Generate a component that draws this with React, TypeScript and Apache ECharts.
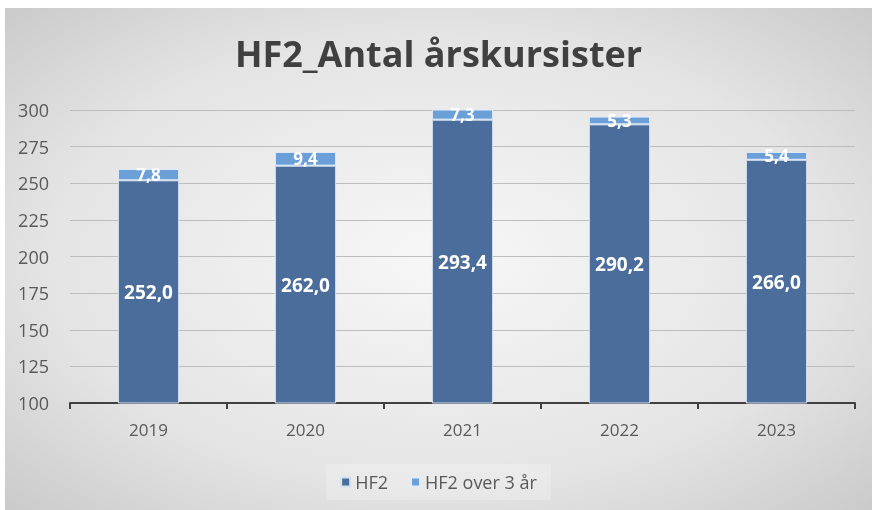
import React, { useEffect, useRef } from "react";
import * as echarts from "echarts";

const categories = ["2019", "2020", "2021", "2022", "2023"];
const hf2 = [252.0, 262.0, 293.4, 290.2, 266.0];
const hf2Over3 = [7.8, 9.4, 7.3, 5.3, 5.4];
const seriesNames = ["HF2", "HF2 over 3 år"];
const titleText = "HF2_Antal årskursister";

const fmt = (v: number) => v.toFixed(1).replace(".", ",");

export default function App() {
  const ref = useRef<HTMLDivElement>(null);
  useEffect(() => {
    if (!ref.current) return;
    const chart = echarts.init(ref.current, undefined, { renderer: "svg" });
    const font = "'Open Sans', 'Noto Sans', sans-serif";
    chart.setOption({
      animation: false,
      backgroundColor: {
        type: "radial",
        x: 0.5,
        y: 0.5,
        r: 0.75,
        colorStops: [
          { offset: 0, color: "#f7f7f7" },
          { offset: 0.6, color: "#e4e4e4" },
          { offset: 1, color: "#c6c6c6" },
        ],
      },
      textStyle: { fontFamily: font },
      title: {
        text: titleText,
        left: "center",
        top: 22,
        textStyle: { fontSize: 36, fontWeight: "bold", color: "#404040", fontFamily: font },
      },
      legend: {
        data: seriesNames,
        bottom: 10,
        left: "center",
        itemWidth: 9,
        itemHeight: 9,
        itemGap: 22,
        padding: [9, 14],
        backgroundColor: "rgba(255,255,255,0.22)",
        icon: "rect",
        textStyle: { fontSize: 18, color: "#595959", fontFamily: font },
      },
      grid: { left: 65, right: 17, top: 102, bottom: 107, containLabel: false },
      xAxis: {
        type: "category",
        data: categories,
        axisLine: { show: true, lineStyle: { color: "#404040", width: 2 } },
        axisTick: { show: true, length: 6, lineStyle: { color: "#404040", width: 2 } },
        axisLabel: { fontSize: 17, color: "#595959", margin: 18, fontFamily: font },
      },
      yAxis: {
        type: "value",
        min: 100,
        max: 300,
        interval: 25,
        axisLine: { show: false },
        axisTick: { show: false },
        splitLine: { lineStyle: { color: "#bdbdbd", width: 1 } },
        axisLabel: { fontSize: 18, color: "#595959", margin: 21, fontFamily: font },
      },
      series: [
        {
          name: seriesNames[0],
          type: "bar",
          stack: "total",
          data: hf2,
          barWidth: "39%",
          itemStyle: { color: "#4a6d9b", borderColor: "#d6e2f0", borderWidth: 1 },
          label: {
            show: true,
            position: "inside",
            color: "#ffffff",
            fontSize: 19,
            fontWeight: "bold",
            fontFamily: font,
            formatter: (p: any) => fmt(p.value),
          },
        },
        {
          name: seriesNames[1],
          type: "bar",
          stack: "total",
          data: hf2Over3,
          barWidth: "39%",
          itemStyle: { color: "#6b9fd8", borderColor: "#e3ecf7", borderWidth: 1 },
          label: {
            show: true,
            position: "inside",
            color: "#ffffff",
            fontSize: 17,
            fontWeight: "bold",
            fontFamily: font,
            formatter: (p: any) => fmt(p.value),
          },
        },
      ],
    });
    return () => chart.dispose();
  }, []);
  return (
    <div
      ref={ref}
      style={{ position: "fixed", left: 5, top: 8, width: 867, height: 502 }}
    />
  );
}
